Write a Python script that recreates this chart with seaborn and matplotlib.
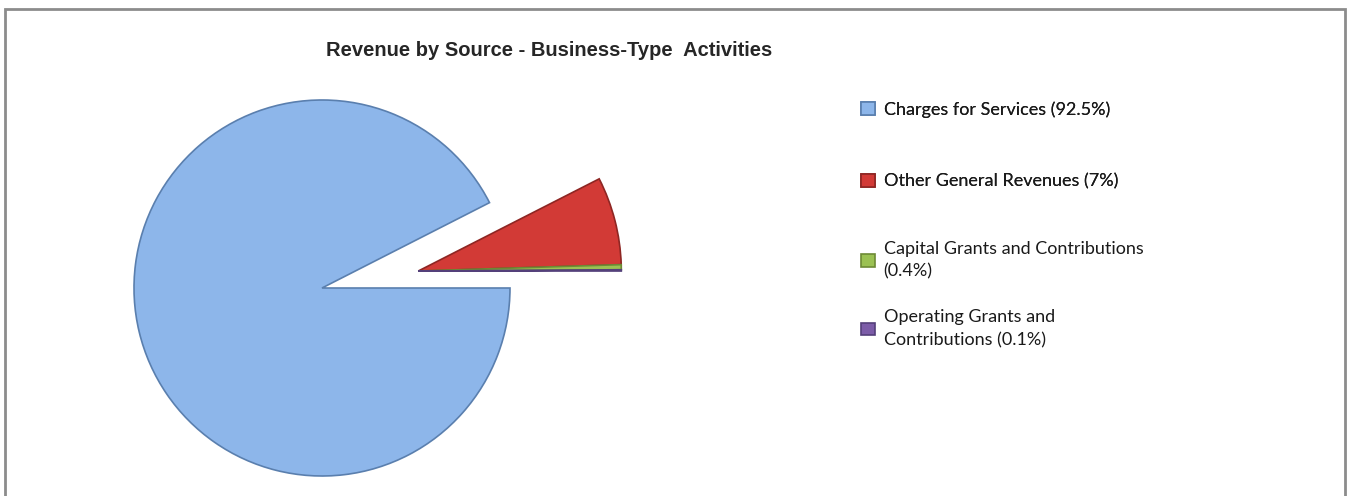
import matplotlib
matplotlib.use("Agg")
import matplotlib.pyplot as plt
import numpy as np
import seaborn as sns

sns.set_theme(style="white")

# data
sources = [
    "Charges for Services (92.5%)",
    "Other General Revenues (7%)",
    "Capital Grants and Contributions\n(0.4%)",
    "Operating Grants and\nContributions (0.1%)",
]
shares = [92.5, 7.0, 0.4, 0.1]
colors = ["#8db6ea", "#d23a36", "#9bc153", "#7c5ca8"]
edges = ["#5a7fae", "#8e2623", "#6d8a35", "#54407a"]

W, H = 1348, 496
fig = plt.figure(figsize=(W / 100, H / 100), dpi=100)

# pie axes: centre at (322, 288) px, radius 188 px
R = 188
L = 1.7
side = 2 * L * R
cx, cy = 322, 288
ax = fig.add_axes([(cx - side / 2) / W, (H - cy - side / 2) / H, side / W, side / H])
wedges, _ = ax.pie(
    shares,
    colors=colors,
    startangle=0,
    counterclock=False,
    wedgeprops=dict(linewidth=1.2),
)
ax.set_xlim(-L, L)
ax.set_ylim(-L, L)
ax.set_aspect("equal")
ax.axis("off")

# pull the small slices out together, as one block
ang = np.deg2rad(10)
dist = 0.52
for w, ec in zip(wedges, edges):
    w.set_edgecolor(ec)
for w in wedges[1:]:
    w.set_center((dist * np.cos(ang), dist * np.sin(ang)))
    w.set_radius(1.08)

fig.text(549 / W, 1 - 51 / H, "Revenue by Source - Business-Type  Activities",
         ha="center", va="center", fontsize=14.5, fontweight="bold",
         family=["Liberation Sans", "DejaVu Sans"])

leg_font = {"family": ["Lato", "DejaVu Sans"], "size": 13}
common = dict(loc="upper left", frameon=False, prop=leg_font, borderpad=0,
              borderaxespad=0, handlelength=0.8, handleheight=0.7,
              handletextpad=0.45)
leg1 = fig.legend(wedges[:2], sources[:2], bbox_to_anchor=(861 / W, 1 - 101 / H),
                  labelspacing=3.1, **common)
leg2 = fig.legend(wedges[2:], sources[2:], bbox_to_anchor=(861 / W, 1 - 241 / H),
                  labelspacing=1.65, **common)
fig.add_artist(leg1)
for leg in (leg1, leg2):
    for t in leg.get_texts():
        t.set_color("#1a1a1a")
        t.set_linespacing(1.5)

# chart border (open at the bottom)
border = plt.Rectangle((5 / W, -0.1), 1340 / W, 1 - 9 / H + 0.1,
                       transform=fig.transFigure, fill=False,
                       edgecolor="#8c8c8c", linewidth=2)
fig.add_artist(border)

fig.savefig("out.png", dpi=100)
